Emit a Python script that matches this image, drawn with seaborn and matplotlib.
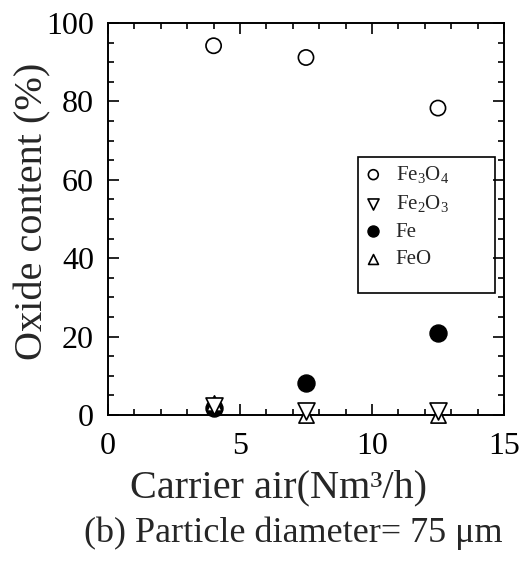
import matplotlib
matplotlib.use("Agg")
import matplotlib.pyplot as plt
import seaborn as sns
import pandas as pd
from matplotlib.ticker import MultipleLocator
from matplotlib.patches import Rectangle

carrier_air = [4.0, 7.5, 12.5]
fe3o4 = [94.2, 91.2, 78.3]
fe2o3 = [2.2, 1.0, 1.0]
fe = [1.8, 8.2, 21.0]
feo = [3.0, 0.0, 0.0]

series_names = [r"Fe$_3$O$_4$", r"Fe$_2$O$_3$", "Fe", "FeO"]
series_values = [fe3o4, fe2o3, fe, feo]

sns.set_theme(style="ticks")
plt.rcParams["font.family"] = ["Liberation Serif", "DejaVu Serif"]
plt.rcParams["mathtext.fontset"] = "custom"
plt.rcParams["mathtext.rm"] = "Liberation Serif"
plt.rcParams["mathtext.it"] = "Liberation Serif:italic"

rows = []
for name, vals in zip(series_names, series_values):
    for x, y in zip(carrier_air, vals):
        rows.append({"air": x, "content": y, "oxide": name})
df = pd.DataFrame(rows)

fig = plt.figure(figsize=(5.21, 5.61), dpi=100)
ax = fig.add_axes([0.2073, 0.2602, 0.760, 0.6988])

styles = {
    series_names[0]: dict(marker="o", facecolor="none", edgecolor="black", s=120, linewidth=1.2, z=3),
    series_names[1]: dict(marker="v", facecolor="white", edgecolor="black", s=150, linewidth=1.2, z=3.2),
    series_names[2]: dict(marker="o", facecolor="black", edgecolor="black", s=150, linewidth=1.0, z=2.8),
    series_names[3]: dict(marker="^", facecolor="white", edgecolor="black", s=120, linewidth=1.2, z=3.1),
}
for name in series_names:
    sub = df[df["oxide"] == name]
    st = styles[name]
    sns.scatterplot(data=sub, x="air", y="content", ax=ax, marker=st["marker"],
                    s=st["s"], facecolor=st["facecolor"], edgecolor=st["edgecolor"],
                    linewidth=st["linewidth"], label=name, clip_on=False, zorder=st["z"])

ax.set_xlim(0, 15)
ax.set_ylim(0, 100)
ax.xaxis.set_major_locator(MultipleLocator(5))
ax.xaxis.set_minor_locator(MultipleLocator(1))
ax.yaxis.set_major_locator(MultipleLocator(20))
ax.yaxis.set_minor_locator(MultipleLocator(5))
ax.tick_params(which="both", direction="in", top=True, right=True, width=1.2, colors="black")
ax.tick_params(which="major", length=8, labelsize=23)
ax.tick_params(axis="x", which="major", pad=12)
ax.tick_params(axis="y", which="major", pad=10)
ax.tick_params(which="minor", length=4.5)
for sp in ax.spines.values():
    sp.set_linewidth(1.4)
    sp.set_color("black")

ax.set_xlabel("Carrier air(Nm³/h)", fontsize=29, va="baseline", ha="center")
ax.xaxis.set_label_coords(0.5336, 0.1141, transform=fig.transFigure)
ax.set_ylabel("Oxide content (%)", fontsize=29, va="center", ha="center")
ax.yaxis.set_label_coords(0.0633, 0.624, transform=fig.transFigure)

leg = ax.legend(loc="upper left", bbox_to_anchor=(0.649, 0.640), fontsize=15,
                frameon=False, handletextpad=0.67, handlelength=0.8,
                labelspacing=0.38, borderpad=0.0, borderaxespad=0.0, markerscale=0.65)
ax.add_patch(Rectangle((0.631, 0.311), 0.346, 0.347, transform=ax.transAxes,
                       fill=False, edgecolor="black", linewidth=1.2, zorder=4))

fig.text(0.5624, 0.0339, "(b) Particle diameter= 75 μm", fontsize=26, ha="center", va="baseline")

fig.savefig("out.png", dpi=100)
